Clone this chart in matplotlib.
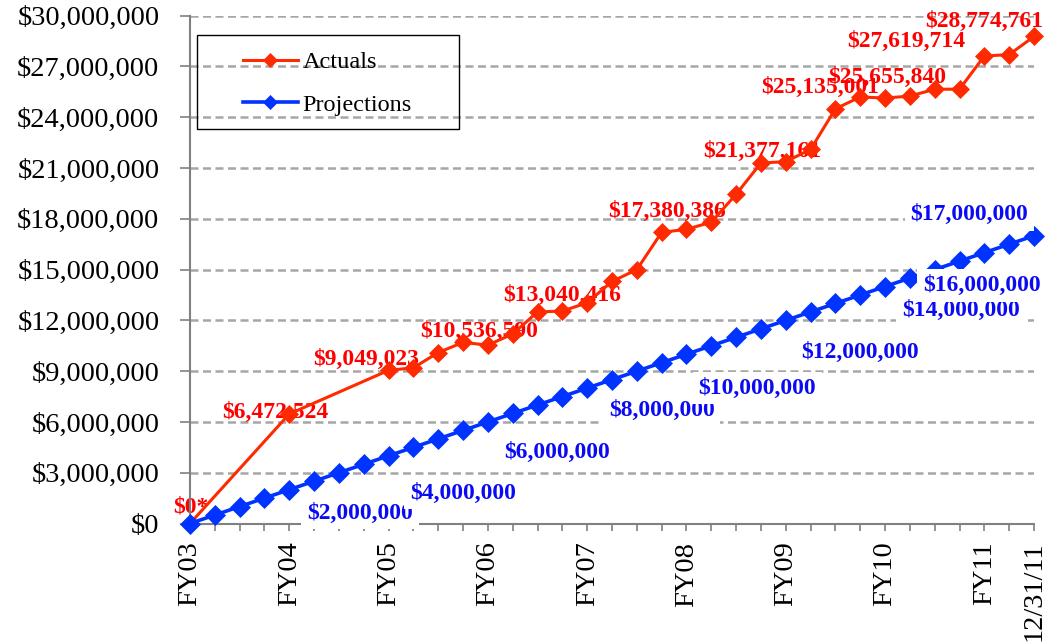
import numpy as np
import matplotlib
matplotlib.use("Agg")
import matplotlib.pyplot as plt
from matplotlib.ticker import FuncFormatter, FixedLocator
from matplotlib.patches import Rectangle

# ---------------- data ----------------
tick_labels = ["FY03", "", "", "", "FY04", "", "", "", "FY05", "", "", "", "FY06", "", "", "",
               "FY07", "", "", "", "FY08", "", "", "", "FY09", "", "", "", "FY10", "", "", "",
               "FY11", "", "12/31/11"]

actuals = [0, None, None, None, 6472524, None, None, None,
           9049023, 9200000, 10100000, 10700000, 10536590, 11200000, 12500000, 12550000,
           13040416, 14300000, 15000000, 17200000, 17380386, 17800000, 19450000, 21300000,
           21377161, 22100000, 24500000, 25200000, 25135001, 25250000, 25655840, 25660000,
           27619714, 27700000, 28774761]

projections = [0, 500000, 1000000, 1500000, 2000000, 2500000, 3000000, 3500000,
               4000000, 4500000, 5000000, 5500000, 6000000, 6500000, 7000000, 7500000,
               8000000, 8500000, 9000000, 9500000, 10000000, 10500000, 11000000, 11500000,
               12000000, 12500000, 13000000, 13500000, 14000000, 14500000, 15000000, 15500000,
               16000000, 16500000, 17000000]

# labelled points (index into series)
actual_label_idx = [0, 4, 8, 12, 16, 20, 24, 28, 30, 32, 34]
proj_label_idx = [4, 8, 12, 16, 20, 24, 28, 32, 34]

# label placement (x in category steps, y in $M)
actual_label_pos = [(0.04, 0.98), (3.42, 6.54), (7.09, 9.67), (11.65, 11.33), (15.0, 13.45),
                    (19.2, 18.43), (23.05, 21.98), (25.4, 25.77), (28.1, 26.36),
                    (28.85, 28.5), (31.99, 29.67)]
proj_label_pos = [(6.85, 0.62), (11.0, 1.8), (14.8, 4.17), (19.0, 6.66), (22.85, 8.0),
                  (27.0, 10.1), (31.05, 12.6), (31.9, 14.05), (31.4, 18.25)]

# ---------------- figure ----------------
plt.rcParams['font.family'] = ['Liberation Serif', 'DejaVu Serif']

fig = plt.figure(figsize=(10.46, 6.44), dpi=100)
ax = fig.add_axes([0.18164, 0.18711, 0.80689, 0.78851])

x = np.arange(len(tick_labels))
act = np.array([np.nan if v is None else v for v in actuals], dtype=float)
mask = ~np.isnan(act)

red_line = '#FF2A00'
blue_line = '#0033FF'

ax.plot(x[mask], act[mask], color=red_line, lw=2.2, marker='D', ms=9.5,
        markerfacecolor=red_line, markeredgecolor=red_line, markeredgewidth=0.5,
        clip_on=False, zorder=3, label='Actuals')
ax.plot(x, projections, color=blue_line, lw=2.6, marker='D', ms=10,
        markerfacecolor=blue_line, markeredgecolor=blue_line, markeredgewidth=0.5,
        clip_on=False, zorder=4, label='Projections')

# data labels
for i, (lx, ly) in zip(actual_label_idx, actual_label_pos):
    txt = "$0*" if actuals[i] == 0 else "${:,.0f}".format(actuals[i])
    ax.text(lx, ly * 1e6, txt, color='#FF0000', fontsize=17, fontweight='bold',
            ha='center', va='center', zorder=2.5, clip_on=False)

for i, (lx, ly) in zip(proj_label_idx, proj_label_pos):
    txt = "${:,.0f}".format(projections[i])
    ax.text(lx, ly * 1e6, txt, color='#0A0AF5', fontsize=17, fontweight='bold',
            ha='center', va='center', zorder=6, clip_on=False,
            bbox=dict(facecolor='white', edgecolor='none', pad=4))

# axes
ax.set_xlim(0, len(tick_labels) - 1)
ax.set_ylim(0, 30000000)
ax.yaxis.set_major_locator(FixedLocator(np.arange(0, 30000001, 3000000)))
ax.yaxis.set_major_formatter(FuncFormatter(lambda v, p: "${:,.0f}".format(v)))
ax.set_xticks(x)
ax.set_xticklabels(tick_labels, rotation=90)

for s in ['top', 'right']:
    ax.spines[s].set_visible(False)
for s in ['left', 'bottom']:
    ax.spines[s].set_color('#808080')
    ax.spines[s].set_linewidth(1.5)

ax.tick_params(axis='y', direction='out', length=7, width=1.2, color='#808080',
               labelsize=20.5, pad=15)
ax.tick_params(axis='x', direction='out', length=5, width=1.2, color='#808080',
               labelsize=20.5, pad=8)

ax.grid(axis='y', color='#A6A6A6', lw=1.8, linestyle=(0, (3.2, 1.8)))
ax.grid(axis='x', visible=False)
ax.set_axisbelow(True)

# legend
ax.add_patch(Rectangle((0.0083, 0.777), 0.3104, 0.185, transform=ax.transAxes,
                       facecolor='none', edgecolor='black', lw=1.0, zorder=7))
h, l = ax.get_legend_handles_labels()
leg = ax.legend(h, l, loc='center left', bbox_to_anchor=(0.0628, 0.8665),
                frameon=False, fontsize=17.5, borderpad=0, borderaxespad=0,
                handlelength=2.25, handletextpad=0.2, labelspacing=0.85,
                markerscale=0.75)
leg.set_zorder(8)

fig.savefig('out.png', dpi=100, facecolor='white')
